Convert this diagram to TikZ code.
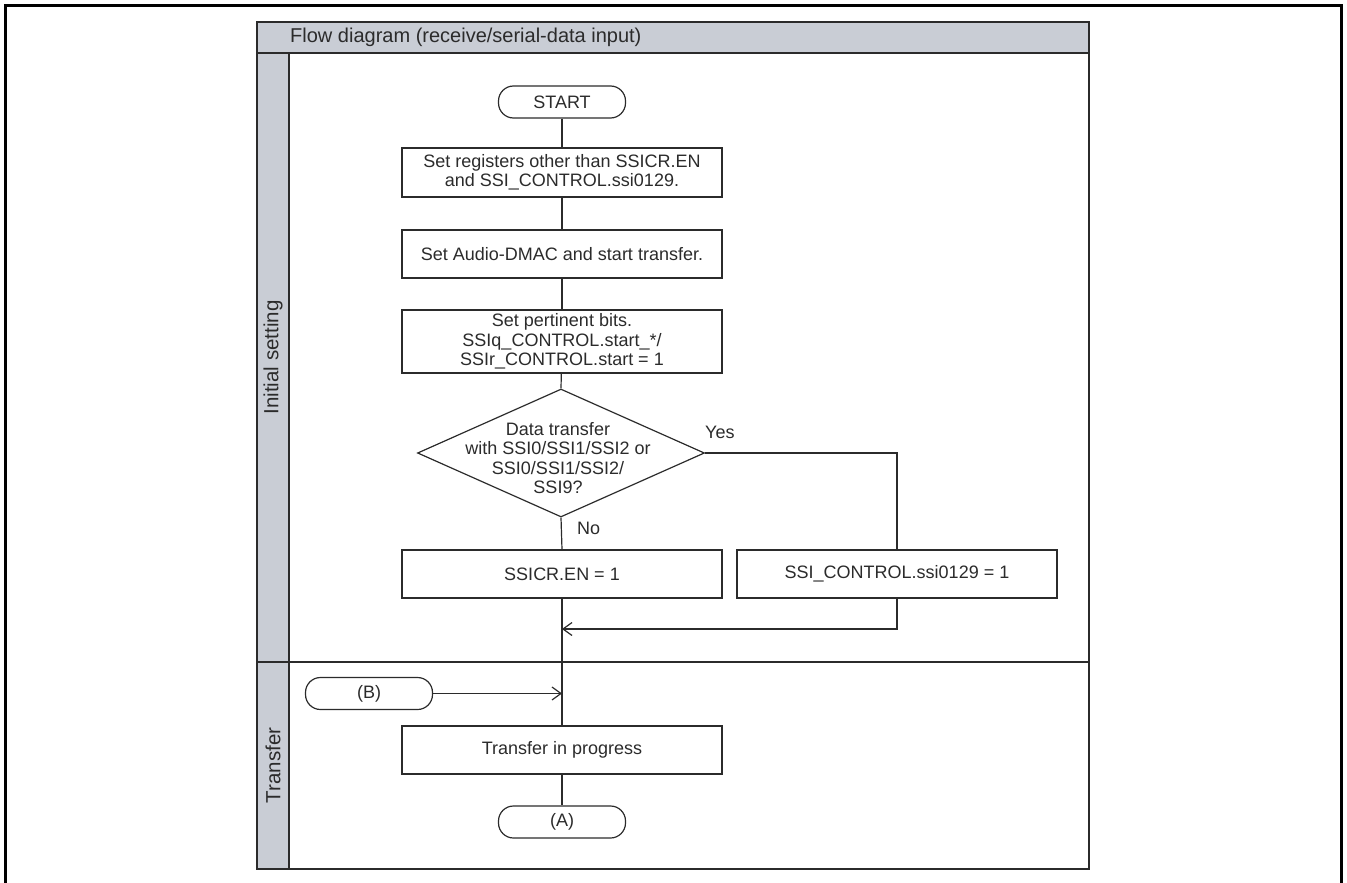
\documentclass[tikz,border=0pt]{standalone}
\usepackage{fontspec}
\setmainfont{Liberation Sans}
\usetikzlibrary{shapes.geometric,arrows.meta}
\definecolor{lanefill}{HTML}{C9CDD5}
\definecolor{ink}{HTML}{2B2B2B}

\begin{document}
\begin{tikzpicture}[x=1pt,y=-1pt,
  every node/.style={text=ink},
  txt/.style={font=\fontsize{18}{19.3}\selectfont},
  proc/.style={txt, draw=ink, line width=1.2pt, minimum width=320pt, inner sep=0pt, align=center},
  term/.style={txt, draw=ink, line width=1.2pt, rounded corners=15pt, minimum width=127pt, minimum height=32pt, inner sep=0pt},
  flow/.style={draw=ink, line width=1.2pt},
  flowarrow/.style={flow, -{Straight Barb[length=9pt,width=13pt,line width=1.2pt]}},
  lbl/.style={txt, inner sep=0pt},
  lanerule/.style={draw=ink, line width=1.5pt},
  lanetitle/.style={rotate=90, inner sep=0pt, font=\fontsize{20.5}{24}\selectfont}
]
\useasboundingbox (0,0) rectangle (1347,883);

% outer frame (open at the bottom edge)
\draw[line width=3pt, black] (5.3,895) -- (5.3,5.3) -- (1341,5.3) -- (1341,895);

% swimlane table
\fill[lanefill] (257,22) rectangle (1089,53);
\fill[lanefill] (257,53) rectangle (289,869);
\draw[lanerule] (257,22) rectangle (1089,869);
\draw[lanerule] (257,53) -- (1089,53);
\draw[lanerule] (289,53) -- (289,869);
\draw[lanerule] (257,662) -- (1089,662);

\node[anchor=west, inner sep=0pt, font=\fontsize{20}{24}\selectfont] (title) at (290,37.5)
  {Flow diagram (receive/serial-data input)};
\node[lanetitle] (laneinit) at (273,357.5) {Initial setting};
\node[lanetitle] (lanexfer) at (273,765.5) {Transfer};

% flow steps
\node[term] (start) at (562,102) {START};
\node[proc, minimum height=49pt] (regs) at (562,172.5)
  {Set registers other than SSICR.EN\\and SSI\_CONTROL.ssi0129.};
\node[proc, minimum height=48pt] (dmac) at (562,254) {Set Audio-DMAC and start transfer.};
\node[proc, minimum height=63pt] (bits) at (562,341.5)
  {Set pertinent bits.\\SSIq\_CONTROL.start\_*/\\SSIr\_CONTROL.start = 1};
\node[diamond, draw=ink, line width=1.2pt, minimum width=287pt, minimum height=128pt, inner sep=0pt] (dec) at (561,453) {};
\node[lbl, align=center] (dectext) at (558,458)
  {Data transfer\\with SSI0/SSI1/SSI2 or\\SSI0/SSI1/SSI2/\\SSI9?};
\node[lbl, anchor=west] (yes) at (705,432) {Yes};
\node[lbl, anchor=west] (no) at (577,528) {No};
\node[proc, minimum height=48pt] (en) at (562,574) {SSICR.EN = 1};
\node[proc, minimum height=48pt] (ctl) at (897,574) {SSI\_CONTROL.ssi0129 = 1};
\coordinate (merge) at (562,629);
\node[term] (B) at (369,693.5) {(B)};
\node[proc, minimum height=48pt] (xfer) at (562,750) {Transfer in progress};
\node[term] (A) at (562,822) {(A)};

% connectors
\draw[flow] (start) -- (regs);
\draw[flow] (regs) -- (dmac);
\draw[flow] (dmac) -- (bits);
\draw[flow] (bits) -- (dec.north);
\draw[flow] (dec.south) -- (en.north);
\draw[flow] (dec.east) -| (ctl.north);
\draw[flowarrow] (ctl.south) |- (merge);
\draw[flow] (en.south) -- (xfer.north);
\draw[flowarrow] (B.east) -- (B.east -| xfer.north);
\draw[flow] (xfer) -- (A);
\end{tikzpicture}
\end{document}
